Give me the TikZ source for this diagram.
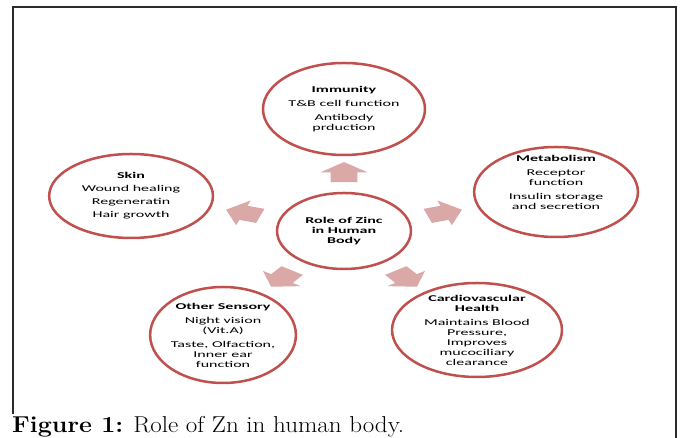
\documentclass[tikz,border=0pt]{standalone}
\usepackage{fontspec}
\usetikzlibrary{shapes.geometric, shapes.arrows}
\newfontfamily\smartfont{Carlito}
\newfontfamily\capfont[FakeStretch=1.09]{Latin Modern Roman}
\definecolor{ringred}{HTML}{C0504D}
\definecolor{arrpink}{RGB}{219,168,168}
\definecolor{framegray}{HTML}{2B2B2B}
\tikzset{
  el/.style={
    ellipse, draw=ringred, line width=2.5pt, fill=white,
    inner sep=-10pt, align=center,
    font=\smartfont\fontsize{8.9}{10}\selectfont
  },
  blk/.style={
    single arrow, fill=arrpink, draw=none,
    inner xsep=0pt, inner ysep=7.2pt,
    minimum height=20pt, minimum width=25.6pt,
    single arrow head extend=5.6pt, single arrow tip angle=104
  },
  frm/.style={draw=framegray, line width=1.6pt},
  figcap/.style={anchor=base west, inner sep=0pt,
              font=\capfont\fontsize{23}{27}\selectfont},
}

\begin{document}
\begin{tikzpicture}[x=1pt, y=1pt]
\useasboundingbox (0,0) rectangle (681,438);

%% --- frame (open at the bottom) ---
\draw[frm] (13,24) -- (13,431) -- (676,431) -- (676,0);

%% ============================================================
%% RADIAL DIAGRAM  (drawn round, then stretched sideways)
%% ============================================================
\begin{scope}[shift={(344,207)}, xscale=1.8, transform shape]

\node[el, minimum width=74.4pt, minimum height=76pt] (hub) at (0,0)
  {\textbf{Role of Zinc}\\\textbf{in Human}\\\textbf{Body}};

\node[el, minimum width=90pt, minimum height=92pt] (imm) at (0,122)
  {\textbf{Immunity}\\[4pt]T\&B cell function\\[4pt]Antibody\\prduction};
\node[el, minimum width=91pt, minimum height=84pt] (skin) at (-118.3,35)
  {\textbf{Skin}\\[3pt]Wound healing\\[3pt]Regeneratin\\[3pt]Hair growth};
\node[el, minimum width=91pt, minimum height=90pt] (metab) at (117.8,39)
  {\textbf{Metabolism}\\[4pt]Receptor\\function\\[4pt]Insulin storage\\and secretion\\[10pt]};
\node[el, minimum width=81pt, minimum height=96pt] (sens) at (-67.2,-104)
  {\textbf{Other Sensory}\\[4pt]Night vision\\(Vit.A)\\[4pt]Taste, Olfaction,\\Inner ear\\function};
\node[el, minimum width=94.4pt, minimum height=94pt] (cardio) at (73.9,-99)
  {\\[-2pt]\textbf{Cardiovascular}\\\textbf{Health}\\[4pt]Maintains Blood\\Pressure,\\Improves\\mucociliary\\clearance};

%% block arrows round the hub
\foreach \ang/\nm in {90/up, 162/lt, 18/rt, 234/ll, 306/lr}
  \node[blk, rotate=\ang] (a-\nm) at (\ang:56) {};

\end{scope}

%% --- caption ---
\node[figcap] (caption) at (12,5) {\textbf{Figure 1:} Role of Zn in human body.};

\end{tikzpicture}
\end{document}
